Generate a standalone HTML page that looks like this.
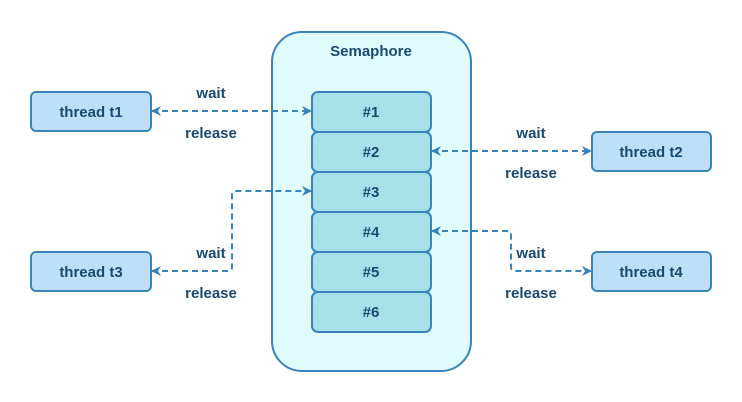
<!DOCTYPE html>
<html><head><style>
body{margin:0;background:#fff;}
svg{display:block;}
text{font-family:"Liberation Sans",sans-serif;font-weight:bold;fill:#1b4a6e;font-size:15px;text-anchor:middle;}
</style></head><body>
<svg width="742" height="402" viewBox="0 0 742 402">
<defs>
<marker id="a" markerWidth="10" markerHeight="10" refX="9" refY="5" orient="auto-start-reverse" markerUnits="userSpaceOnUse">
<path d="M0,0 L10,5 L0,10 L3,5 Z" fill="#3a84b8"/>
</marker>
</defs>
<rect x="272" y="32" width="199" height="339" rx="30" fill="#e0fbfc" stroke="#3a84b8" stroke-width="2"/>
<text x="371" y="56">Semaphore</text>
<g fill="#a6e0e8" stroke="#3a84b8" stroke-width="2">
<rect x="312" y="92" width="119" height="40" rx="6"/>
<rect x="312" y="132" width="119" height="40" rx="6"/>
<rect x="312" y="172" width="119" height="40" rx="6"/>
<rect x="312" y="212" width="119" height="40" rx="6"/>
<rect x="312" y="252" width="119" height="40" rx="6"/>
<rect x="312" y="292" width="119" height="40" rx="6"/>
</g>
<text x="371" y="117">#1</text>
<text x="371" y="157">#2</text>
<text x="371" y="197">#3</text>
<text x="371" y="237">#4</text>
<text x="371" y="277">#5</text>
<text x="371" y="317">#6</text>
<g fill="#bde0f8" stroke="#3a84b8" stroke-width="2">
<rect x="31" y="92" width="120" height="39" rx="5"/>
<rect x="592" y="132" width="119" height="39" rx="5"/>
<rect x="31" y="252" width="120" height="39" rx="5"/>
<rect x="592" y="252" width="119" height="39" rx="5"/>
</g>
<text x="91" y="117">thread t1</text>
<text x="651" y="157">thread t2</text>
<text x="91" y="277">thread t3</text>
<text x="651" y="277">thread t4</text>
<g fill="none" stroke="#3a84b8" stroke-width="2" stroke-dasharray="6,4" marker-start="url(#a)" marker-end="url(#a)">
<path d="M152,111 H311"/>
<path d="M432,151 H591"/>
<path d="M152,271 H228 Q232,271 232,267 V195 Q232,191 236,191 H311"/>
<path d="M432,231 H507 Q511,231 511,235 V267 Q511,271 515,271 H591"/>
</g>
<text x="211" y="98">wait</text>
<text x="211" y="138">release</text>
<text x="531" y="138">wait</text>
<text x="531" y="178">release</text>
<text x="211" y="258">wait</text>
<text x="211" y="298">release</text>
<text x="531" y="258">wait</text>
<text x="531" y="298">release</text>
</svg>
</body></html>
